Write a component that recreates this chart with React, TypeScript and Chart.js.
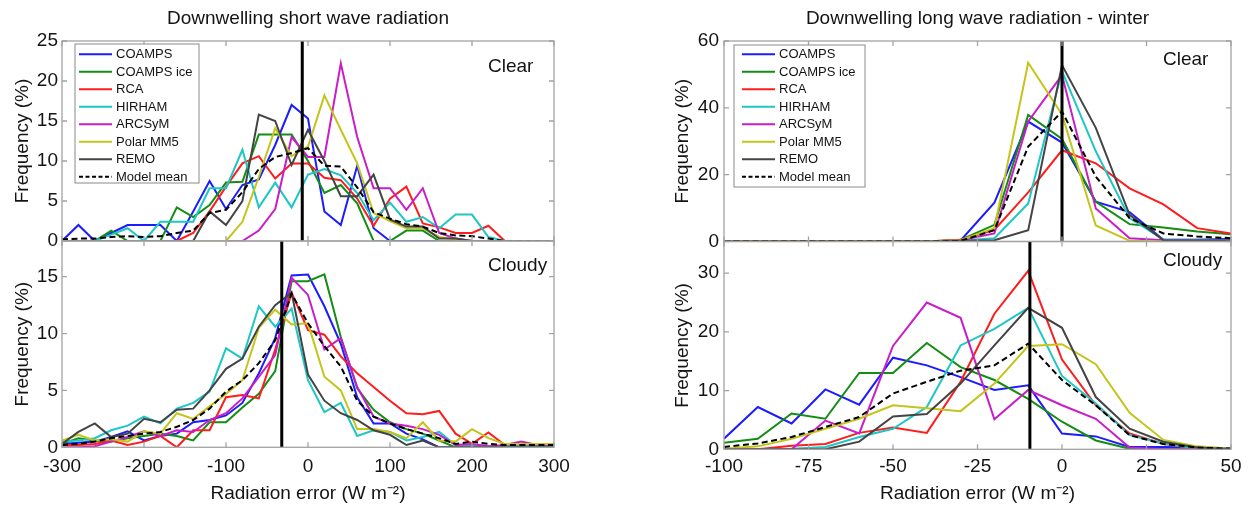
import React, { useEffect, useRef } from 'react';
import { Chart, registerables } from 'chart.js';

Chart.register(...registerables);

const FONT = "'Liberation Sans', Arial, Helvetica, sans-serif";

// ---------- categories / series ----------
const seriesNames = ['COAMPS', 'COAMPS ice', 'RCA', 'HIRHAM', 'ARCSyM', 'Polar MM5', 'REMO', 'Model mean'];
const seriesColors = ['#1c1cff', '#138d13', '#ff1c1c', '#1ec6c6', '#c81ec8', '#c4c41a', '#444444', '#000000'];

const swBins = [-300, -280, -260, -240, -220, -200, -180, -160, -140, -120, -100, -80, -60, -40, -20, 0, 20, 40, 60, 80, 100, 120, 140, 160, 180, 200, 220, 240, 260, 280, 300];
const lwBins = [-100, -90, -80, -70, -60, -50, -40, -30, -20, -10, 0, 10, 20, 30, 40, 50];

// ---------- tick labels ----------
const swXTicks = [-300, -200, -100, 0, 100, 200, 300];
const lwXTicks = [-100, -75, -50, -25, 0, 25, 50];
const swClearYTicks = [0, 5, 10, 15, 20, 25];
const swCloudyYTicks = [0, 5, 10, 15];
const lwClearYTicks = [0, 20, 40, 60];
const lwCloudyYTicks = [0, 10, 20, 30];

// ---------- Downwelling short wave, clear ----------
const swClearCOAMPS = [0, 2, 0, 1, 2, 2, 2, 0, 3.7, 7.5, 4, 7, 7.7, 12, 17, 15.3, 3.7, 2, 9.4, 1.6, 0, 0, 0, 0, 0, 0, 0, 0, 0, 0, 0];
const swClearCOAMPSice = [0, 0, 0, 1.3, 0, 0, 0, 4.2, 3, 4.5, 7.3, 7.4, 13.3, 13.3, 13.3, 10, 6, 7, 4.7, 0, 0, 1.3, 1.3, 0, 0, 0, 0, 0, 0, 0, 0];
const swClearRCA = [0, 0, 0, 0, 0, 0, 0, 0, 1, 3.7, 6.8, 9.7, 10.6, 7.8, 9.7, 9.7, 7.9, 7.6, 5.3, 1.9, 5.3, 6.8, 2.2, 1.7, 1, 1, 1.9, 0, 0, 0, 0];
const swClearHIRHAM = [0, 0, 0, 0.8, 1.6, 0, 2.4, 2.4, 2.4, 6.6, 6.6, 11.4, 4.2, 7.3, 4.2, 8.3, 9, 8.2, 6, 2.6, 4.8, 2.4, 3, 1.6, 3.3, 3.3, 0.5, 0, 0, 0, 0];
const swClearARCSyM = [0, 0, 0, 0, 0, 0, 0, 0, 0, 0, 0, 0, 1.3, 4, 13, 10.5, 10.5, 22.2, 13, 6.6, 6.6, 3.9, 6.6, 1, 0.3, 0, 0, 0, 0, 0, 0];
const swClearPolarMM5 = [0, 0, 0, 0, 0, 0, 0, 0, 0, 0, 0, 2.4, 8, 14.1, 10.6, 11.8, 18.2, 13.9, 9.7, 3.5, 2.5, 1.6, 1.6, 0.5, 0.2, 0, 0, 0, 0, 0, 0];
const swClearREMO = [0, 0, 0, 0, 0, 0, 0, 0, 0, 3.7, 2, 5, 15.8, 15, 9.5, 13.9, 10, 5.6, 5.6, 8.3, 2.7, 1.8, 1.8, 0.3, 0.3, 0, 0, 0, 0, 0, 0];
const swClearMean = [0.2, 0.3, 0.3, 0.5, 0.6, 0.5, 0.6, 1, 1.3, 3.5, 3.9, 6.1, 9, 10.5, 11, 11.6, 9.4, 9.3, 6.7, 3.6, 2.8, 2.1, 1.8, 1, 0.7, 0.6, 0.3, 0, 0, 0, 0];

// ---------- Downwelling short wave, cloudy ----------
const swCloudyCOAMPS = [0.3, 0.4, 0.5, 0.9, 1.4, 0.6, 1, 1.2, 2.2, 2.4, 2.8, 3.9, 6.5, 9.6, 15.1, 15.2, 12.4, 9.1, 4.4, 2.1, 2.1, 1.2, 0.7, 0, 0, 0.2, 0, 0.1, 0.1, 0.1, 0.1];
const swCloudyCOAMPSice = [0.3, 0.8, 0.6, 0.5, 0.8, 1, 1.2, 1, 0.6, 2.2, 2.2, 3.5, 4.7, 6.7, 14.6, 14.6, 15.2, 9.7, 5.2, 3.3, 2.2, 1.6, 1.2, 0.6, 0, 0, 0, 0.1, 0.1, 0.1, 0.1];
const swCloudyRCA = [0.2, 0.2, 0.3, 0.6, 0.2, 0.5, 1, 0, 1.5, 1.5, 4.4, 4.6, 4.3, 8.6, 13.6, 10.3, 9.9, 8, 6.5, 5.3, 4.1, 3, 2.9, 3.2, 1.2, 0.3, 1.3, 0.2, 0.2, 0.2, 0.2];
const swCloudyHIRHAM = [0.5, 0.6, 0.8, 1.5, 1.9, 2.7, 2.1, 3.4, 3.9, 4.9, 8.7, 7.8, 12.4, 10.6, 12.2, 5.9, 3.1, 3.9, 1, 1.5, 1.35, 0.6, 0.9, 1.35, 0.2, 0.2, 0.1, 0.1, 0.1, 0.1, 0.1];
const swCloudyARCSyM = [0, 0, 0.1, 0.5, 0.9, 1.4, 1, 1.5, 1.35, 2.4, 3, 4.3, 6.2, 8.1, 14.9, 13.4, 8.6, 9.6, 5.3, 2.7, 2.1, 1.9, 1.6, 1.1, 0.2, 0.3, 0.1, 0.2, 0.5, 0.2, 0.2];
const swCloudyPolarMM5 = [0.6, 1.1, 0.6, 0.7, 0.5, 1.4, 1.2, 3, 2.5, 3.6, 4.7, 5.9, 10.5, 12.1, 10.8, 10.9, 6.2, 5, 1.6, 1.6, 1.35, 0.8, 2.2, 0.6, 0.5, 1.6, 0.8, 0.3, 0.3, 0.3, 0.3];
const swCloudyREMO = [0.3, 1.35, 2.1, 0.9, 1.2, 2.5, 2.2, 3.3, 3.4, 5, 6.9, 7.8, 10.6, 12.5, 13.6, 6.4, 4.1, 3, 2.4, 1.5, 1.1, 0.2, 0.6, 0, 0, 0, 0, 0, 0, 0, 0];
const swCloudyMean = [0.2, 0.3, 0.5, 0.8, 1, 1.2, 1.35, 1.8, 2.4, 3.4, 4.9, 5.9, 7.4, 9.4, 13.5, 10.9, 8.9, 7.1, 4.1, 2.7, 2.1, 1.6, 1.2, 0.8, 0.3, 0.5, 0.3, 0.2, 0.2, 0.2, 0.2];

// ---------- Downwelling long wave (winter), clear ----------
const lwClearCOAMPS = [0, 0, 0, 0, 0, 0, 0, 0.3, 11.6, 35.9, 29.6, 11.9, 8.8, 0.5, 0.5, 0.8];
const lwClearCOAMPSice = [0, 0, 0, 0, 0, 0, 0, 0.5, 5, 37.9, 30.7, 11.9, 5.2, 4.2, 3, 2.2];
const lwClearRCA = [0, 0, 0, 0, 0, 0, 0, 0.5, 3.5, 14.7, 27.3, 23.4, 15.9, 11.1, 4, 2.4];
const lwClearHIRHAM = [0, 0, 0, 0, 0, 0, 0, 0.2, 1, 11.4, 51, 27, 7, 0.6, 0.5, 0.5];
const lwClearARCSyM = [0, 0, 0, 0, 0, 0, 0, 0.4, 2.4, 35.9, 49.8, 9.9, 1, 0.4, 0.3, 0.3];
const lwClearPolarMM5 = [0, 0, 0, 0, 0, 0, 0, 0.4, 4, 53.5, 38, 4.8, 0.2, 0, 0, 0];
const lwClearREMO = [0, 0, 0, 0, 0, 0, 0, 0.2, 0.4, 3.4, 52.8, 34, 8, 0.4, 0.3, 0.3];
const lwClearMean = [0, 0, 0, 0, 0, 0, 0, 0.2, 3.4, 28.4, 38.9, 19.4, 7, 2.4, 1.5, 1];

// ---------- Downwelling long wave (winter), cloudy ----------
const lwCloudyCOAMPS = [1.8, 7.2, 4.4, 10.2, 7.6, 15.6, 14.3, 12.3, 10.1, 10.9, 2.7, 2.2, 0.4, 0.4, 0.3, 0.2];
const lwCloudyCOAMPSice = [1.1, 1.8, 6.1, 5.2, 13, 13, 18.1, 14, 11.8, 8.6, 4.7, 1.5, 0.1, 0, 0, 0];
const lwCloudyRCA = [0, 0, 0.6, 0.9, 2.8, 3.7, 2.8, 11.5, 23.1, 30.4, 15.3, 7.5, 2.7, 0.9, 0.1, 0];
const lwCloudyHIRHAM = [0, 0, 0.1, 0.4, 2.1, 3.5, 7.2, 17.7, 20.5, 24.1, 12.5, 7.8, 2.4, 1, 0.1, 0];
const lwCloudyARCSyM = [0, 0, 0, 4.9, 2.7, 17.6, 25, 22.4, 5.1, 10.1, 7.5, 5.2, 0.3, 0, 0, 0];
const lwCloudyPolarMM5 = [0.1, 0.5, 1.8, 3.5, 5.2, 7.5, 7, 6.5, 11.2, 17.6, 17.9, 14.5, 6.2, 1.6, 0.5, 0.1];
const lwCloudyREMO = [0, 0, 0, 0, 1.3, 5.6, 6, 11.2, 17.7, 24.1, 20.7, 8.9, 3.5, 1.3, 0.3, 0];
const lwCloudyMean = [0.4, 1, 2.1, 3.8, 5.5, 9.5, 11.5, 13.4, 14.3, 18, 11.8, 7.5, 2.4, 0.9, 0.3, 0.1];

// reference (vertical) line positions and y-axis limits
const refLines = [-7, -32, 0, -9.5];
const yMaxes = [25, 18.14, 60, 35.4];

const panels = [
  {
    bins: swBins, xMin: -300, xMax: 300, xTicks: swXTicks, yTicks: swClearYTicks, yMax: yMaxes[0], refX: refLines[0],
    series: [swClearCOAMPS, swClearCOAMPSice, swClearRCA, swClearHIRHAM, swClearARCSyM, swClearPolarMM5, swClearREMO, swClearMean],
    title: 'Downwelling short wave radiation', tag: 'Clear', legend: true, showX: false,
  },
  {
    bins: swBins, xMin: -300, xMax: 300, xTicks: swXTicks, yTicks: swCloudyYTicks, yMax: yMaxes[1], refX: refLines[1],
    series: [swCloudyCOAMPS, swCloudyCOAMPSice, swCloudyRCA, swCloudyHIRHAM, swCloudyARCSyM, swCloudyPolarMM5, swCloudyREMO, swCloudyMean],
    title: '', tag: 'Cloudy', legend: false, showX: true,
  },
  {
    bins: lwBins, xMin: -100, xMax: 50, xTicks: lwXTicks, yTicks: lwClearYTicks, yMax: yMaxes[2], refX: refLines[2],
    series: [lwClearCOAMPS, lwClearCOAMPSice, lwClearRCA, lwClearHIRHAM, lwClearARCSyM, lwClearPolarMM5, lwClearREMO, lwClearMean],
    title: 'Downwelling long wave radiation - winter', tag: 'Clear', legend: true, showX: false,
  },
  {
    bins: lwBins, xMin: -100, xMax: 50, xTicks: lwXTicks, yTicks: lwCloudyYTicks, yMax: yMaxes[3], refX: refLines[3],
    series: [lwCloudyCOAMPS, lwCloudyCOAMPSice, lwCloudyRCA, lwCloudyHIRHAM, lwCloudyARCSyM, lwCloudyPolarMM5, lwCloudyREMO, lwCloudyMean],
    title: '', tag: 'Cloudy', legend: false, showX: true,
  },
];

// ---------- layout (positions / sizes) ----------
const geoms = [
  { left: 0, top: 0, w: 600, h: 265, pad: { left: 0, right: 46, top: 0, bottom: 24 }, yWidth: 62, yTitlePad: 11, yTickPad: 4, xHeight: 0, xTickPad: 0, xTitlePad: 0, titlePad: { top: 7.4, bottom: 10.8 }, tagDx: 66, tagDy: 30.5, legend: { x0: 13, x1: 137, y0: 3, y1: 142, l0: 17, l1: 50, t: 54 } },
  { left: 0, top: 216, w: 600, h: 290, pad: { left: 0, right: 46, top: 25, bottom: 0 }, yWidth: 62, yTitlePad: 11, yTickPad: 4, xHeight: 58.7, xTickPad: 7.8, xTitlePad: 1.2, titlePad: { top: 0, bottom: 0 }, tagDx: 66, tagDy: 30, legend: null },
  { left: 625, top: 0, w: 625, h: 265, pad: { left: 0, right: 19, top: 0, bottom: 23.5 }, yWidth: 99, yTitlePad: 46, yTickPad: 5, xHeight: 0, xTickPad: 0, xTitlePad: 0, titlePad: { top: 7.4, bottom: 10.8 }, tagDx: 68, tagDy: 24, legend: { x0: 10, x1: 141, y0: 4, y1: 146, l0: 18, l1: 51, t: 55 } },
  { left: 625, top: 216, w: 625, h: 290, pad: { left: 0, right: 19, top: 25.5, bottom: 0 }, yWidth: 99, yTitlePad: 46, yTickPad: 5, xHeight: 56.7, xTickPad: 5.8, xTitlePad: 1.2, titlePad: { top: 0, bottom: 0 }, tagDx: 68, tagDy: 24, legend: null },
];

const BOX = '#a3a3a3';
const TEXT = '#141414';

const decorPlugin = {
  id: 'matlabDecor',
  afterDatasetsDraw(chart: any, _args: any, opts: any) {
    const { ctx, chartArea } = chart;
    const { left, right, top, bottom } = chartArea;
    const xs = chart.scales.x;
    const ys = chart.scales.y;
    ctx.save();
    // box
    ctx.strokeStyle = BOX;
    ctx.lineWidth = 1.3;
    ctx.setLineDash([]);
    ctx.strokeRect(left, top, right - left, bottom - top);
    // inward ticks on all four sides
    const tl = 5;
    ctx.beginPath();
    opts.xTicks.forEach((v: number) => {
      const px = xs.getPixelForValue(v);
      ctx.moveTo(px, bottom); ctx.lineTo(px, bottom - tl);
      ctx.moveTo(px, top); ctx.lineTo(px, top + tl);
    });
    opts.yTicks.forEach((v: number) => {
      const py = ys.getPixelForValue(v);
      ctx.moveTo(left, py); ctx.lineTo(left + tl, py);
      ctx.moveTo(right, py); ctx.lineTo(right - tl, py);
    });
    ctx.stroke();
    // panel tag
    ctx.fillStyle = TEXT;
    ctx.font = `19px ${FONT}`;
    ctx.textAlign = 'left';
    ctx.textBaseline = 'alphabetic';
    ctx.fillText(opts.tag, right - opts.tagDx, top + opts.tagDy);
    // legend
    const lg = opts.legend;
    if (lg) {
      ctx.fillStyle = '#ffffff';
      ctx.fillRect(left + lg.x0, top + lg.y0, lg.x1 - lg.x0, lg.y1 - lg.y0);
      ctx.strokeStyle = '#8a8a8a';
      ctx.lineWidth = 1;
      ctx.strokeRect(left + lg.x0, top + lg.y0, lg.x1 - lg.x0, lg.y1 - lg.y0);
      ctx.font = `13px ${FONT}`;
      ctx.textBaseline = 'middle';
      const items = chart.data.datasets.filter((d: any) => d.inLegend);
      items.forEach((d: any, i: number) => {
        const cy = top + 13.3 + 17.5 * i;
        ctx.strokeStyle = d.borderColor;
        ctx.lineWidth = 2;
        ctx.setLineDash(d.borderDash && d.borderDash.length ? [4, 2.5] : []);
        ctx.beginPath();
        ctx.moveTo(left + lg.l0, cy);
        ctx.lineTo(left + lg.l1, cy);
        ctx.stroke();
        ctx.setLineDash([]);
        ctx.fillStyle = TEXT;
        ctx.fillText(d.label, left + lg.t, cy + 0.5);
      });
    }
    ctx.restore();
  },
};

function buildChart(canvas: HTMLCanvasElement, p: any, g: any) {
  const datasets: any[] = [
    {
      label: 'reference',
      inLegend: false,
      data: [{ x: p.refX, y: 0 }, { x: p.refX, y: p.yMax }],
      borderColor: '#000000',
      borderWidth: 3,
      pointRadius: 0,
      fill: false,
      order: 0,
    },
  ];
  p.series.forEach((vals: number[], i: number) => {
    datasets.push({
      label: seriesNames[i],
      inLegend: true,
      data: p.bins.map((b: number, j: number) => ({ x: b, y: vals[j] })),
      borderColor: seriesColors[i],
      borderWidth: 2,
      borderDash: i === 7 ? [6, 3.5] : [],
      pointRadius: 0,
      fill: false,
      tension: 0,
      order: 8 - i,
    });
  });

  return new Chart(canvas, {
    type: 'line',
    data: { datasets },
    plugins: [decorPlugin],
    options: {
      responsive: false,
      animation: false,
      devicePixelRatio: 1,
      layout: { padding: g.pad },
      events: [],
      plugins: {
        legend: { display: false },
        tooltip: { enabled: false },
        title: {
          display: !!p.title,
          text: p.title,
          fullSize: false,
          color: TEXT,
          font: { family: FONT, size: 19, weight: 'normal' },
          padding: g.titlePad,
        },
        matlabDecor: {
          xTicks: p.xTicks, yTicks: p.yTicks, tag: p.tag, tagDx: g.tagDx, tagDy: g.tagDy,
          legend: p.legend ? g.legend : null,
        },
      } as any,
      scales: {
        x: {
          type: 'linear',
          min: p.xMin,
          max: p.xMax,
          display: p.showX,
          afterBuildTicks: (s: any) => { s.ticks = p.xTicks.map((v: number) => ({ value: v })); },
          afterFit: (s: any) => { if (p.showX) s.height = g.xHeight; },
          grid: { display: false, drawTicks: false },
          border: { display: false },
          ticks: { color: TEXT, font: { family: FONT, size: 19 }, padding: g.xTickPad, maxRotation: 0, autoSkip: false },
          title: {
            display: p.showX,
            text: 'Radiation error (W m\u207B\u00B2)',
            color: TEXT,
            font: { family: FONT, size: 19 },
            padding: { top: 0, bottom: g.xTitlePad },
          },
        },
        y: {
          type: 'linear',
          min: 0,
          max: p.yMax,
          afterBuildTicks: (s: any) => { s.ticks = p.yTicks.map((v: number) => ({ value: v })); },
          afterFit: (s: any) => { s.width = g.yWidth; },
          grid: { display: false, drawTicks: false },
          border: { display: false },
          ticks: { color: TEXT, font: { family: FONT, size: 19 }, padding: g.yTickPad, autoSkip: false },
          title: {
            display: true,
            text: 'Frequency (%)',
            color: TEXT,
            font: { family: FONT, size: 19 },
            padding: { top: g.yTitlePad, bottom: 0 },
          },
        },
      },
    } as any,
  });
}

export default function App() {
  const r0 = useRef<HTMLCanvasElement>(null);
  const r1 = useRef<HTMLCanvasElement>(null);
  const r2 = useRef<HTMLCanvasElement>(null);
  const r3 = useRef<HTMLCanvasElement>(null);
  const refs = [r0, r1, r2, r3];

  useEffect(() => {
    const charts = panels.map((p, i) => buildChart(refs[i].current as HTMLCanvasElement, p, geoms[i]));
    return () => charts.forEach((c) => c.destroy());
  }, []);

  return (
    <div style={{ position: 'absolute', left: 0, top: 0, width: 1250, height: 506, background: '#ffffff', overflow: 'hidden' }}>
      {geoms.map((g, i) => (
        <canvas
          key={i}
          ref={refs[i]}
          width={g.w}
          height={g.h}
          style={{ position: 'absolute', left: g.left, top: g.top, width: g.w, height: g.h }}
        />
      ))}
    </div>
  );
}
